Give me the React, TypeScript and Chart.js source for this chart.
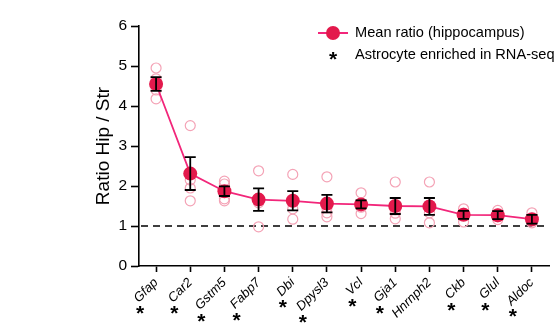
import React, { useEffect, useRef } from "react";
import { Chart, registerables } from "chart.js";

Chart.register(...registerables);

const categories = ["Gfap", "Car2", "Gstm5", "Fabp7", "Dbi", "Dpysl3", "Vcl", "Gja1", "Hnrnph2", "Ckb", "Glul", "Aldoc"];
const meanRatio = [4.55, 2.31, 1.87, 1.66, 1.63, 1.56, 1.54, 1.5, 1.49, 1.28, 1.27, 1.17];
const semRatio = [0.17, 0.41, 0.12, 0.28, 0.24, 0.22, 0.1, 0.2, 0.21, 0.1, 0.1, 0.11];
const replicate1 = [4.95, 3.51, 2.12, 2.38, 2.29, 2.23, 1.83, 2.1, 2.1, 1.43, 1.39, 1.33];
const replicate2 = [4.68, 2.15, 2.05, 1.7, 1.63, 1.45, 1.55, 1.4, 1.45, 1.32, 1.3, 1.15];
const replicate3 = [4.4, 1.95, 1.68, 1.58, 1.43, 1.33, 1.47, 1.32, 1.33, 1.27, 1.23, 1.12];
const replicate4 = [4.18, 1.63, 1.63, 0.98, 1.17, 1.23, 1.31, 1.18, 1.08, 1.1, 1.16, 1.08];
const astroEnriched = [true, true, true, true, true, true, true, true, false, true, true, true];
const yTicks = [0, 1, 2, 3, 4, 5, 6];
const referenceLine = 1;
const legendMean = "Mean ratio (hippocampus)";
const legendAstro = "Astrocyte enriched in RNA-seq";
const yTitle = "Ratio Hip / Str";

const FONT = "'Liberation Sans', Arial, Helvetica, sans-serif";
const LINE_COLOR = "#F2267A";
const MARKER_COLOR = "#E3194C";
const OPEN_COLOR = "#F4A3B6";
const X_FONT_SIZE = 13;
const STAR_FONT = `bold 21px ${FONT}`;
const STAR_SIZE = 21;

const refLinePlugin = {
  id: "refLine",
  beforeDatasetsDraw(chart: any) {
    const { ctx, chartArea, scales } = chart;
    const y = scales.y.getPixelForValue(referenceLine);
    ctx.save();
    ctx.strokeStyle = "#000";
    ctx.lineWidth = 1.3;
    ctx.setLineDash([7, 5]);
    ctx.beginPath();
    ctx.moveTo(chartArea.left + 2, y);
    ctx.lineTo(chartArea.right, y);
    ctx.stroke();
    ctx.restore();
  },
};

const errorBarPlugin = {
  id: "errorBars",
  afterDatasetsDraw(chart: any) {
    const { ctx, scales } = chart;
    ctx.save();
    ctx.strokeStyle = "#000";
    ctx.lineWidth = 1.8;
    meanRatio.forEach((m, i) => {
      const x = scales.x.getPixelForValue(i);
      const yt = scales.y.getPixelForValue(m + semRatio[i]);
      const yb = scales.y.getPixelForValue(m - semRatio[i]);
      const cap = 5.5;
      ctx.beginPath();
      ctx.moveTo(x, yt);
      ctx.lineTo(x, yb);
      ctx.moveTo(x - cap, yt);
      ctx.lineTo(x + cap, yt);
      ctx.moveTo(x - cap, yb);
      ctx.lineTo(x + cap, yb);
      ctx.stroke();
    });
    ctx.restore();
  },
};

const annotationPlugin = {
  id: "annotations",
  afterDraw(chart: any) {
    const { ctx, scales } = chart;
    const xs = scales.x;
    ctx.save();
    const lh = X_FONT_SIZE * 1.2;
    const c = Math.SQRT1_2;
    categories.forEach((label, i) => {
      if (!astroEnriched[i]) return;
      ctx.font = `italic ${X_FONT_SIZE}px ${FONT}`;
      const w = ctx.measureText(label).width;
      const px = xs.getPixelForValue(i);
      const yTop = xs.top + 6 + 3 + (lh / 2) * c;
      const lx = px - w * c;
      const ly = yTop + w * c;
      const sx = lx + 4;
      const sy = ly + 8;
      ctx.font = STAR_FONT;
      ctx.fillStyle = "#000";
      ctx.textAlign = "center";
      ctx.textBaseline = "alphabetic";
      ctx.fillText("*", sx, sy + 0.57 * STAR_SIZE);
    });
    // legend
    const lgX = 333;
    const lgY1 = 33;
    const lgY2 = 55;
    ctx.strokeStyle = LINE_COLOR;
    ctx.lineWidth = 2;
    ctx.beginPath();
    ctx.moveTo(lgX - 15, lgY1);
    ctx.lineTo(lgX + 15, lgY1);
    ctx.stroke();
    ctx.fillStyle = MARKER_COLOR;
    ctx.beginPath();
    ctx.arc(lgX, lgY1, 7, 0, Math.PI * 2);
    ctx.fill();
    ctx.fillStyle = "#000";
    ctx.font = `14.6px ${FONT}`;
    ctx.textAlign = "left";
    ctx.textBaseline = "middle";
    ctx.fillText(legendMean, 355, lgY1);
    ctx.fillText(legendAstro, 355, lgY2);
    ctx.font = STAR_FONT;
    ctx.textAlign = "center";
    ctx.textBaseline = "alphabetic";
    ctx.fillText("*", lgX, lgY2 - 0.5 + 0.57 * STAR_SIZE);
    ctx.restore();
  },
};

function replicateDataset(values: number[]) {
  return {
    data: values,
    showLine: false,
    pointRadius: 5,
    pointHoverRadius: 5,
    pointBackgroundColor: "rgba(255,255,255,0)",
    pointBorderColor: OPEN_COLOR,
    pointBorderWidth: 1.2,
    borderColor: OPEN_COLOR,
  };
}

export default function App() {
  const ref = useRef<HTMLCanvasElement>(null);
  useEffect(() => {
    if (!ref.current) return;
    const chart = new Chart(ref.current, {
      type: "line",
      data: {
        labels: categories,
        datasets: [
          {
            data: meanRatio,
            borderColor: LINE_COLOR,
            borderWidth: 1.8,
            tension: 0,
            pointRadius: 7,
            pointHoverRadius: 7,
            pointBackgroundColor: MARKER_COLOR,
            pointBorderColor: MARKER_COLOR,
            pointBorderWidth: 0,
          } as any,
          replicateDataset(replicate1),
          replicateDataset(replicate2),
          replicateDataset(replicate3),
          replicateDataset(replicate4),
        ],
      },
      options: {
        responsive: false,
        animation: false,
        layout: { padding: { left: 88, right: 11, top: 26, bottom: 0 } },
        plugins: { legend: { display: false }, tooltip: { enabled: false } },
        scales: {
          x: {
            type: "category",
            offset: true,
            grid: {
              offset: false,
              drawOnChartArea: false,
              drawTicks: true,
              tickLength: 6,
              tickColor: "#000",
              tickWidth: 1.6,
            },
            border: { display: true, color: "#000", width: 1.6 },
            ticks: {
              color: "#000",
              font: { family: FONT, size: X_FONT_SIZE, style: "italic" },
              minRotation: 45,
              maxRotation: 45,
              autoSkip: false,
              padding: 3,
            },
            afterFit(scale: any) {
              scale.height = 60;
            },
          },
          y: {
            min: 0,
            max: 6,
            afterBuildTicks(scale: any) {
              scale.ticks = yTicks.map((v) => ({ value: v }));
            },
            grid: {
              drawOnChartArea: false,
              drawTicks: true,
              tickLength: 8,
              tickColor: "#000",
              tickWidth: 1.6,
            },
            border: { display: true, color: "#000", width: 1.6 },
            ticks: {
              color: "#000",
              font: { family: FONT, size: 15.5 },
              padding: 4,
            },
            title: {
              display: true,
              text: yTitle,
              color: "#000",
              font: { family: FONT, size: 19 },
              padding: { top: 4, bottom: 0 },
            },
            afterFit(scale: any) {
              scale.width = 51;
            },
          },
        },
      },
      plugins: [refLinePlugin, errorBarPlugin, annotationPlugin],
    } as any);
    return () => chart.destroy();
  }, []);
  return (
    <div style={{ position: "fixed", left: 0, top: 0, width: 560, height: 326, background: "#fff" }}>
      <canvas ref={ref} width={560} height={326} style={{ width: 560, height: 326 }} />
    </div>
  );
}
